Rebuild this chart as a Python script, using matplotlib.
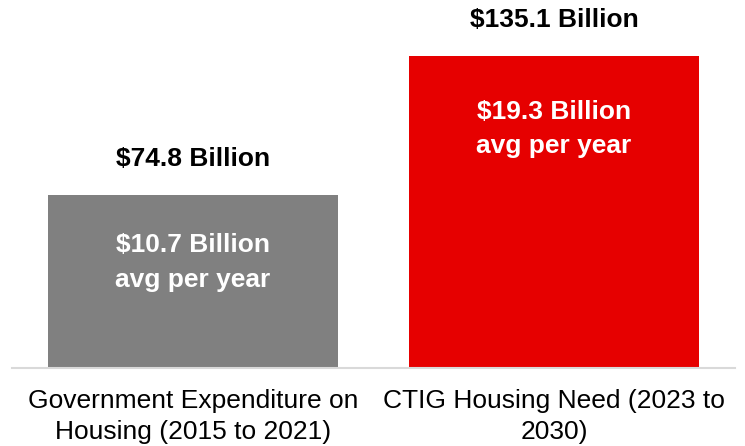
import matplotlib.pyplot as plt

plt.rcParams['font.family'] = ['Liberation Sans', 'DejaVu Sans']

# Data
categories = ['Government Expenditure on\nHousing (2015 to 2021)',
              'CTIG Housing Need (2023 to\n2030)']
totals = [74.8, 135.1]          # $ billion, total
per_year = [10.7, 19.3]         # $ billion, average per year
colors = ['#808080', '#E60000']

fig = plt.figure(figsize=(7.45, 4.46), dpi=100)
ax = fig.add_axes([12 / 745, 78 / 446, 723 / 745, 368 / 446])

x = range(len(categories))
bars = ax.bar(x, totals, width=0.803, color=colors)

ax.set_xlim(-0.501, 1.501)
ax.set_ylim(0, 159.4)

# Total labels above bars
for xi, v in zip(x, totals):
    ax.annotate(f'${v:.1f} Billion', (xi, v), xytext=(0, 36),
                textcoords='offset pixels', ha='center', va='center',
                fontsize=19, fontweight='bold', color='black')

# Per-year labels inside bars
inner_offsets = [-67, -73]
for xi, v, p, off in zip(x, totals, per_year, inner_offsets):
    ax.annotate(f'${p:.1f} Billion\navg per year', (xi, v), xytext=(0, off),
                textcoords='offset pixels', ha='center', va='center',
                fontsize=19, fontweight='bold', color='white', linespacing=1.55)

ax.set_xticks(list(x))
ax.set_xticklabels(categories, fontsize=19, linespacing=1.4)
ax.tick_params(axis='x', length=0, pad=15)
ax.set_yticks([])

for s in ['top', 'right', 'left']:
    ax.spines[s].set_visible(False)
ax.spines['bottom'].set_color('#D9D9D9')
ax.spines['bottom'].set_linewidth(1.5)

fig.savefig('out.png', dpi=100)
